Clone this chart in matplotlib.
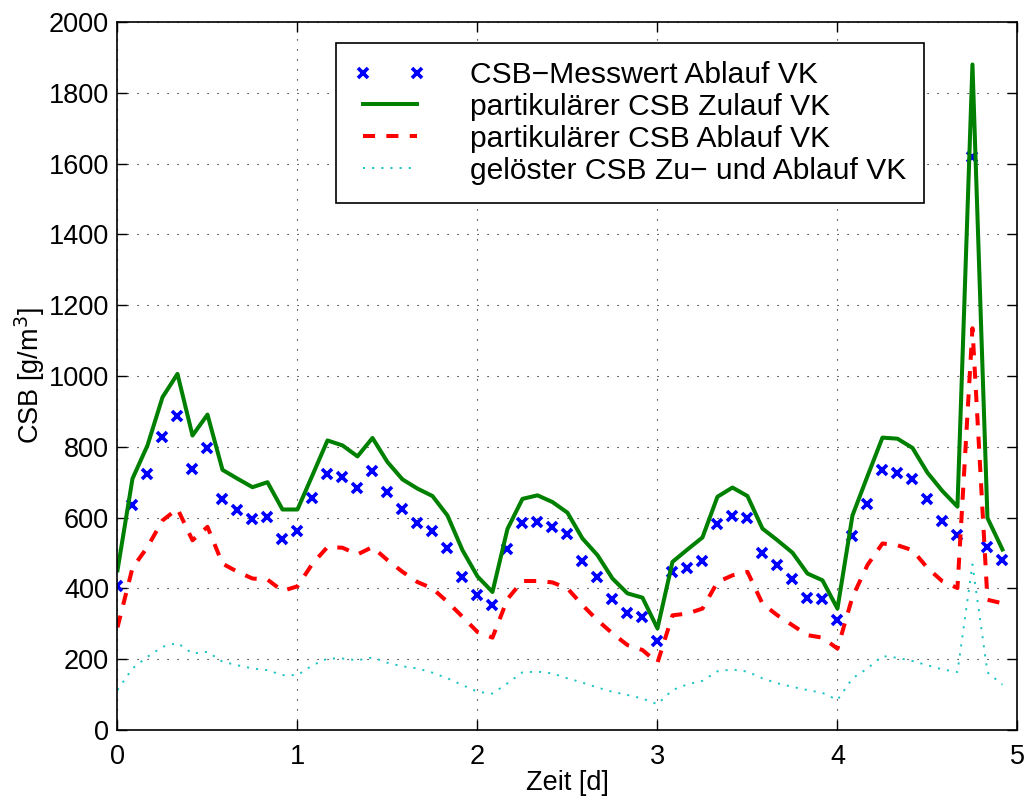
import numpy as np
import matplotlib
matplotlib.use('Agg')
import matplotlib.pyplot as plt

plt.rcParams['font.family'] = ['Liberation Sans', 'DejaVu Sans']

# Zeitachse: 2-Stunden-Werte (1/12 d)
n_points = 60
zeit = np.arange(n_points) / 12.0

# CSB-Messwert Ablauf VK (Kreuze)
csb_mess_ablauf = [407, 637, 722, 829, 886, 738, 797, 653, 621, 597,
                   602, 541, 563, 655, 724, 715, 684, 732, 672, 623,
                   586, 562, 514, 431, 381, 353, 512, 585, 587, 574,
                   555, 478, 431, 371, 331, 320, 251, 447, 459, 478,
                   583, 606, 599, 501, 465, 428, 374, 370, 312, 548,
                   638, 734, 727, 708, 652, 590, 552, 1620, 517, 480]

# partikulaerer CSB Zulauf VK
csb_part_zulauf = [451, 710, 804, 940, 1006, 832, 891, 735, 710, 686,
                   700, 623, 623, 720, 818, 804, 773, 825, 757, 708,
                   682, 661, 606, 508, 434, 390, 568, 653, 663, 644,
                   614, 541, 494, 428, 386, 374, 287, 475, 510, 544,
                   659, 685, 661, 569, 536, 501, 442, 423, 343, 606,
                   717, 826, 823, 797, 727, 675, 631, 1880, 599, 510]

# partikulaerer CSB Ablauf VK
csb_part_ablauf = [290, 458, 517, 592, 625, 536, 574, 470, 447, 428,
                   425, 393, 406, 470, 517, 515, 496, 517, 480, 447,
                   418, 400, 362, 320, 277, 261, 370, 421, 421, 417,
                   400, 353, 310, 273, 240, 226, 190, 324, 329, 343,
                   418, 437, 447, 357, 324, 296, 268, 261, 230, 376,
                   466, 527, 522, 508, 458, 420, 401, 1135, 368, 358]

# geloester CSB Zu- und Ablauf VK
csb_geloest = [113, 174, 207, 235, 246, 216, 221, 193, 183, 174,
               169, 155, 155, 183, 202, 202, 197, 205, 190, 180,
               174, 162, 146, 127, 108, 103, 132, 163, 165, 160,
               146, 134, 120, 108, 99, 89, 73, 113, 129, 139,
               166, 171, 165, 146, 132, 122, 113, 105, 85, 146,
               174, 209, 204, 195, 183, 171, 164, 468, 163, 128]

labels = ['CSB\u2212Messwert Ablauf VK',
          'partikulärer CSB Zulauf VK',
          'partikulärer CSB Ablauf VK',
          'gelöster CSB Zu\u2212 und Ablauf VK']

fs = 19.5
fs_leg = 21.6

fig = plt.figure(figsize=(10.27, 8.01), dpi=100)
ax = fig.add_axes([0.1144, 0.0886, 0.8763, 0.8839])

h1, = ax.plot(zeit, csb_mess_ablauf, linestyle='none', marker='x',
              color='blue', markersize=7.5, markeredgewidth=2.6)
h2, = ax.plot(zeit, csb_part_zulauf, color='#008000', linewidth=2.9)
h3, = ax.plot(zeit, csb_part_ablauf, color='red', linewidth=2.9,
              linestyle=(0, (3, 2.8)))
h4, = ax.plot(zeit, csb_geloest, color='#20c4c4', linewidth=1.4,
              linestyle=(0, (1.1, 3.6)))

ax.set_xlim(0, 5)
ax.set_ylim(0, 2000)
ax.set_xticks(np.arange(0, 6, 1))
ax.set_yticks(np.arange(0, 2001, 200))
ax.grid(True, color='black', linestyle=(0, (1, 8)), linewidth=0.8)
ax.tick_params(direction='in', length=7, width=1, top=True, right=True,
               labelsize=fs)
ax.tick_params(axis='x', pad=10)
ax.tick_params(axis='y', pad=6)
for sp in ax.spines.values():
    sp.set_linewidth(1.2)

ax.set_xlabel('Zeit [d]', fontsize=fs, labelpad=0)
ax.set_ylabel('CSB [g/m$^3$]', fontsize=fs, labelpad=1.5)

leg = ax.legend([h1, h2, h3, h4], labels, loc='upper left',
                bbox_to_anchor=(336 / 1027, 1 - 43 / 801),
                bbox_transform=fig.transFigure, borderaxespad=0,
                fontsize=fs_leg, numpoints=2, handlelength=2.4,
                handletextpad=1.45, labelspacing=0.13, borderpad=0.6,
                fancybox=False, framealpha=1, edgecolor='black')
leg.get_frame().set_linewidth(1.2)

fig.savefig('out.png', dpi=100)
